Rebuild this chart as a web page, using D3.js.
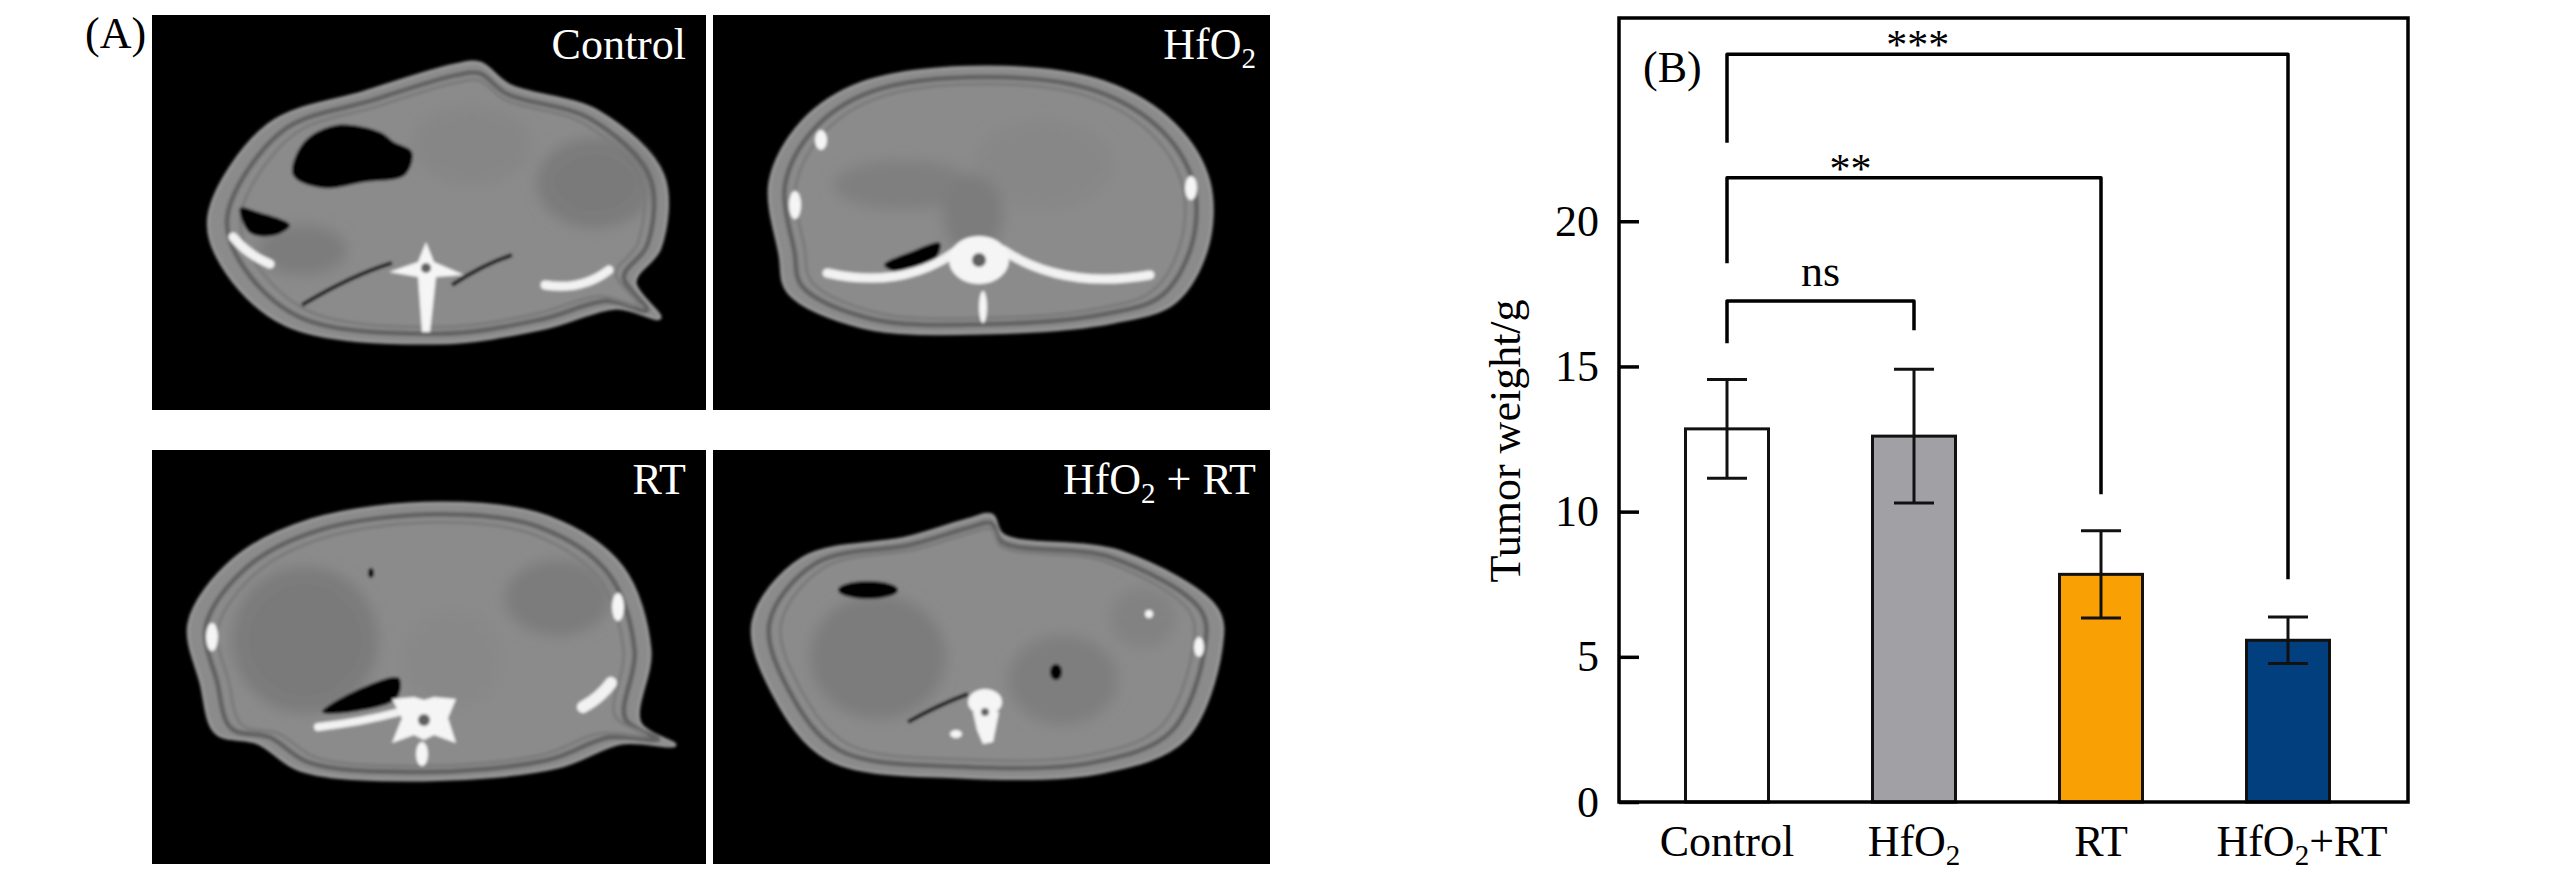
<!DOCTYPE html>
<html lang="en">
<head>
<meta charset="UTF-8">
<title>Tumor weight</title>
<script src="https://cdnjs.cloudflare.com/ajax/libs/d3/7.8.5/d3.min.js"></script>
<style>
	html, body { margin: 0; padding: 0; background: #fff; }
	svg { display: block; font-family: "Times New Roman", "Liberation Serif", serif; }
</style>
</head>
<body>
<div id="fig"></div>
<script>
// ---- chart data ----
var categories = ["Control", "HfO2", "RT", "HfO2+RT"];
var meanWeight = [12.85, 12.6, 7.84, 5.57];
var errWeight  = [1.7, 2.3, 1.5, 0.8];
var barColors  = ["#ffffff", "#a1a0a5", "#f9a005", "#013f7e"];
var yTicks     = [0, 5, 10, 15, 20];

// significance brackets
var sigFrom     = [0, 0, 0];
var sigTo       = [1, 2, 3];
var sigHeight   = [17.25, 21.5, 25.75];
var sigLeftEnd  = [15.8, 18.55, 22.7];
var sigRightEnd = [16.25, 10.6, 7.67];
var sigLabels   = ["ns", "**", "***"];

var panelLabels = ["Control", "HfO2", "RT", "HfO2 + RT"];

// ---- layout ----
var W = 2567, H = 882;
var frame = {left: 1619, right: 2408, top: 18, bottom: 802};
var serif = "'Times New Roman', 'Liberation Serif', serif";

var svg = d3.select("#fig").append("svg")
	.attr("width", W).attr("height", H);

svg.append("rect").attr("width", W).attr("height", H).attr("fill", "#fff");

// blur filters in user space so thin shapes are never cut by their bbox
var defs = svg.append("defs");
defs.append("filter").attr("id", "soft").attr("filterUnits", "userSpaceOnUse")
	.attr("x", -100).attr("y", -100).attr("width", 800).attr("height", 650)
	.append("feGaussianBlur").attr("stdDeviation", 1.6);
defs.append("filter").attr("id", "softer").attr("filterUnits", "userSpaceOnUse")
	.attr("x", -100).attr("y", -100).attr("width", 800).attr("height", 650)
	.append("feGaussianBlur").attr("stdDeviation", 7);

// write "HfO2" style labels with a real subscript
function chem(text, str, size) {
	var parts = str.split(/(?<=O)2/);
	text.append("tspan").text(parts[0]);
	if (parts.length > 1) {
		text.append("tspan").text("2")
			.attr("font-size", size * 0.66)
			.attr("dy", size * 0.2);
		text.append("tspan").text(parts[1])
			.attr("font-size", size)
			.attr("dy", -size * 0.2);
	}
}

// ================= panel (A): CT slices =================
var cells = [
	{x: 152, y: 15,  w: 554, h: 395},
	{x: 713, y: 15,  w: 557, h: 395},
	{x: 152, y: 450, w: 554, h: 414},
	{x: 713, y: 450, w: 557, h: 414}
];

// rough drawing of each slice, local pixel coords inside its cell
var slices = [
	{
		body: [[57,200],[116,110],[213,77],[303,50],[328,48],[357,70],[447,97],[511,160],[508,233],[483,267],[508,303],[465,293],[393,313],[285,328],[134,310],[70,250]],
		organs: [[443,168,58,45,"#7a7a7a"],[320,130,60,40,"#868686"],[150,235,45,25,"#7c7c7c"]],
		air: [[[141,160],[152,127],[185,110],[228,117],[242,127],[260,137],[253,160],[213,167],[170,173]],
		      [[88,193],[106,197],[138,210],[124,220],[98,218]]],
		airDots: [],
		bone: [[[274,227],[282,247],[312,260],[284,262],[278,317],[270,317],[266,262],[237,257],[266,247]]],
		boneDots: [],
		arcs: [[81,222,96,240,118,249,9],[393,270,430,276,457,255,9]],
		darkLines: [[150,290,200,260,240,248],[300,270,330,250,360,240]],
		hole: [274,253,5]
	},
	{
		body: [[274,52],[391,67],[462,110],[496,167],[494,233],[462,287],[401,307],[270,318],[149,312],[75,277],[67,240],[57,167],[89,107],[149,68]],
		organs: [[190,170,70,25,"#7f7f7f"],[330,150,70,45,"#878787"],[260,200,30,40,"#7c7c7c"]],
		air: [[[171,250],[200,236],[227,228],[222,245],[190,258]]],
		airDots: [],
		bone: [],
		boneDots: [[266,245,30,24],[270,292,4,16],[108,125,6,10],[82,190,6,14],[478,173,6,12]],
		arcs: [[114,258,190,275,245,235,9],[290,235,350,275,437,260,9]],
		darkLines: [],
		hole: [266,245,7]
	},
	{
		body: [[290,53],[396,67],[470,117],[498,200],[488,273],[523,295],[470,293],[406,317],[272,330],[148,320],[106,293],[64,283],[49,233],[37,173],[81,110],[159,70]],
		organs: [[153,190,73,73,"#7a7a7a"],[406,148,53,38,"#7c7c7c"],[300,210,50,50,"#888888"]],
		air: [[[170,262],[205,240],[247,228],[245,248],[200,262]]],
		airDots: [[219,123,3,5]],
		bone: [[[272,250],[282,247],[304,249],[296,268],[304,293],[282,285],[272,290],[262,285],[240,293],[250,268],[240,249],[262,247]]],
		boneDots: [[270,304,6,12],[60,187,6,14],[466,157,6,14]],
		arcs: [[166,277,210,272,247,262,8],[431,257,448,248,459,233,12]],
		darkLines: [],
		hole: [272,270,6]
	},
	{
		body: [[40,172],[90,108],[193,88],[254,70],[279,65],[290,85],[408,102],[504,159],[508,199],[472,289],[390,322],[247,327],[115,309],[61,245]],
		organs: [[165,207,68,62,"#7b7b7b"],[430,168,33,30,"#828282"],[350,230,55,45,"#7e7e7e"]],
		air: [],
		airDots: [[155,140,30,9],[343,222,6,8]],
		bone: [[[260,262],[286,262],[280,292],[270,294],[264,280]]],
		boneDots: [[272,252,17,13],[243,284,6,4],[436,164,4,4],[486,197,5,10]],
		arcs: [],
		darkLines: [[195,272,225,255,255,244]],
		hole: [272,262,4]
	}
];

var outline = d3.line().curve(d3.curveCatmullRomClosed.alpha(0.5));
var poly = d3.line().curve(d3.curveLinearClosed);

function shrink(pts, k) {
	var cx = d3.mean(pts, p => p[0]), cy = d3.mean(pts, p => p[1]);
	return pts.map(p => [cx + (p[0] - cx) * k, cy + (p[1] - cy) * k]);
}

cells.forEach(function(c, i) {
	var s = slices[i];
	defs.append("clipPath").attr("id", "clip" + i)
		.append("rect").attr("width", c.w).attr("height", c.h);

	var g = svg.append("g")
		.attr("transform", "translate(" + c.x + "," + c.y + ")")
		.attr("clip-path", "url(#clip" + i + ")");

	g.append("rect").attr("width", c.w).attr("height", c.h).attr("fill", "#000");

	var ct = g.append("g").attr("filter", "url(#soft)");

	ct.append("path").attr("d", outline(s.body))
		.attr("fill", "#8b8b8b").attr("stroke", "#9a9a9a").attr("stroke-width", 3);

	// subtle soft-tissue organs
	ct.append("g").attr("filter", "url(#softer)")
		.selectAll("ellipse").data(s.organs).enter().append("ellipse")
		.attr("cx", d => d[0]).attr("cy", d => d[1])
		.attr("rx", d => d[2]).attr("ry", d => d[3])
		.attr("fill", d => d[4]);

	// fat / muscle rings under the skin
	ct.append("path").attr("d", outline(shrink(s.body, 0.93)))
		.attr("fill", "none").attr("stroke", "#626262").attr("stroke-width", 5);
	ct.append("path").attr("d", outline(shrink(s.body, 0.88)))
		.attr("fill", "none").attr("stroke", "#7a7a7a").attr("stroke-width", 3);

	ct.selectAll(".dl").data(s.darkLines).enter().append("path")
		.attr("d", d => "M" + d[0] + "," + d[1] + "Q" + d[2] + "," + d[3] + " " + d[4] + "," + d[5])
		.attr("fill", "none").attr("stroke", "#1e1e1e").attr("stroke-width", 4);

	ct.selectAll(".air").data(s.air).enter().append("path")
		.attr("d", d => outline(d)).attr("fill", "#000");
	ct.selectAll(".airdot").data(s.airDots).enter().append("ellipse")
		.attr("cx", d => d[0]).attr("cy", d => d[1])
		.attr("rx", d => d[2]).attr("ry", d => d[3]).attr("fill", "#000");

	ct.selectAll(".arc").data(s.arcs).enter().append("path")
		.attr("d", d => "M" + d[0] + "," + d[1] + "Q" + d[2] + "," + d[3] + " " + d[4] + "," + d[5])
		.attr("fill", "none").attr("stroke", "#f2f2f2").attr("stroke-width", d => d[6]).attr("stroke-linecap", "round");

	ct.selectAll(".bone").data(s.bone).enter().append("path")
		.attr("d", d => poly(d)).attr("fill", "#f5f5f5");
	ct.selectAll(".bdot").data(s.boneDots).enter().append("ellipse")
		.attr("cx", d => d[0]).attr("cy", d => d[1])
		.attr("rx", d => d[2]).attr("ry", d => d[3]).attr("fill", "#f5f5f5");
	ct.append("circle").attr("cx", s.hole[0]).attr("cy", s.hole[1]).attr("r", s.hole[2])
		.attr("fill", "#5f5f5f");

	var lab = g.append("text")
		.attr("x", c.w - (i % 2 === 0 ? 20 : 14))
		.attr("y", 44)
		.attr("text-anchor", "end")
		.attr("fill", "#fff")
		.attr("font-family", serif)
		.attr("font-size", 44);
	chem(lab, panelLabels[i], 44);
});

svg.append("text").attr("x", 85).attr("y", 48)
	.attr("font-family", serif).attr("font-size", 44).text("(A)");

// ================= panel (B): bar chart =================
var y = d3.scaleLinear().domain([0, 27]).range([frame.bottom, frame.top]);
var x = d3.scalePoint().domain(categories).range([1727, 2288]);
var barW = 83, capW = 40;

var chart = svg.append("g");

var yAxis = chart.append("g")
	.attr("transform", "translate(" + frame.left + ",0)")
	.call(d3.axisLeft(y).tickValues(yTicks).tickSize(-20).tickPadding(20).tickFormat(d3.format("d")));
yAxis.attr("font-family", serif).attr("font-size", 44);
yAxis.select(".domain").remove();
yAxis.selectAll(".tick line").attr("stroke", "#000").attr("stroke-width", 3.5);
yAxis.selectAll(".tick text").attr("fill", "#000");

chart.append("text")
	.attr("transform", "translate(1520,441) rotate(-90)")
	.attr("text-anchor", "middle")
	.attr("font-family", serif).attr("font-size", 44)
	.text("Tumor weight/g");

// bars
chart.selectAll(".bar").data(categories).enter().append("rect")
	.attr("class", "bar")
	.attr("x", d => x(d) - barW / 2)
	.attr("width", barW)
	.attr("y", (d, i) => y(meanWeight[i]))
	.attr("height", (d, i) => y(0) - y(meanWeight[i]))
	.attr("fill", (d, i) => barColors[i])
	.attr("stroke", "#111").attr("stroke-width", 3);

// error bars
var eb = chart.selectAll(".err").data(categories).enter().append("g")
	.attr("stroke", "#111").attr("stroke-width", 3);
eb.append("line")
	.attr("x1", d => x(d)).attr("x2", d => x(d))
	.attr("y1", (d, i) => y(meanWeight[i] - errWeight[i]))
	.attr("y2", (d, i) => y(meanWeight[i] + errWeight[i]));
eb.append("line")
	.attr("x1", d => x(d) - capW / 2).attr("x2", d => x(d) + capW / 2)
	.attr("y1", (d, i) => y(meanWeight[i] + errWeight[i]))
	.attr("y2", (d, i) => y(meanWeight[i] + errWeight[i]));
eb.append("line")
	.attr("x1", d => x(d) - capW / 2).attr("x2", d => x(d) + capW / 2)
	.attr("y1", (d, i) => y(meanWeight[i] - errWeight[i]))
	.attr("y2", (d, i) => y(meanWeight[i] - errWeight[i]));

// frame
chart.append("rect")
	.attr("x", frame.left).attr("y", frame.top)
	.attr("width", frame.right - frame.left)
	.attr("height", frame.bottom - frame.top)
	.attr("fill", "none").attr("stroke", "#000").attr("stroke-width", 3.5);

// category labels
chart.selectAll(".cat").data(categories).enter().append("text")
	.attr("x", (d, i) => x(d) + (i === 3 ? 14 : 0))
	.attr("y", 856)
	.attr("text-anchor", "middle")
	.attr("font-family", serif).attr("font-size", 44)
	.each(function(d) { chem(d3.select(this), d, 44); });

// significance brackets
var labelAt = [0.5, 0.33, 0.34];
var labelDy = [-15, 5, 5];
sigLabels.forEach(function(lbl, k) {
	var x0 = x(categories[sigFrom[k]]), x1 = x(categories[sigTo[k]]);
	chart.append("path")
		.attr("d", "M" + x0 + "," + y(sigLeftEnd[k]) + "V" + y(sigHeight[k]) + "H" + x1 + "V" + y(sigRightEnd[k]))
		.attr("fill", "none").attr("stroke", "#000").attr("stroke-width", 3.5)
		.attr("stroke-linejoin", "round");
	chart.append("text")
		.attr("x", x0 + (x1 - x0) * labelAt[k])
		.attr("y", y(sigHeight[k]) + labelDy[k])
		.attr("text-anchor", "middle")
		.attr("font-family", serif).attr("font-size", k === 0 ? 44 : 42)
		.text(lbl);
});

chart.append("text").attr("x", 1643).attr("y", 82)
	.attr("font-family", serif).attr("font-size", 44).text("(B)");
</script>
</body>
</html>
